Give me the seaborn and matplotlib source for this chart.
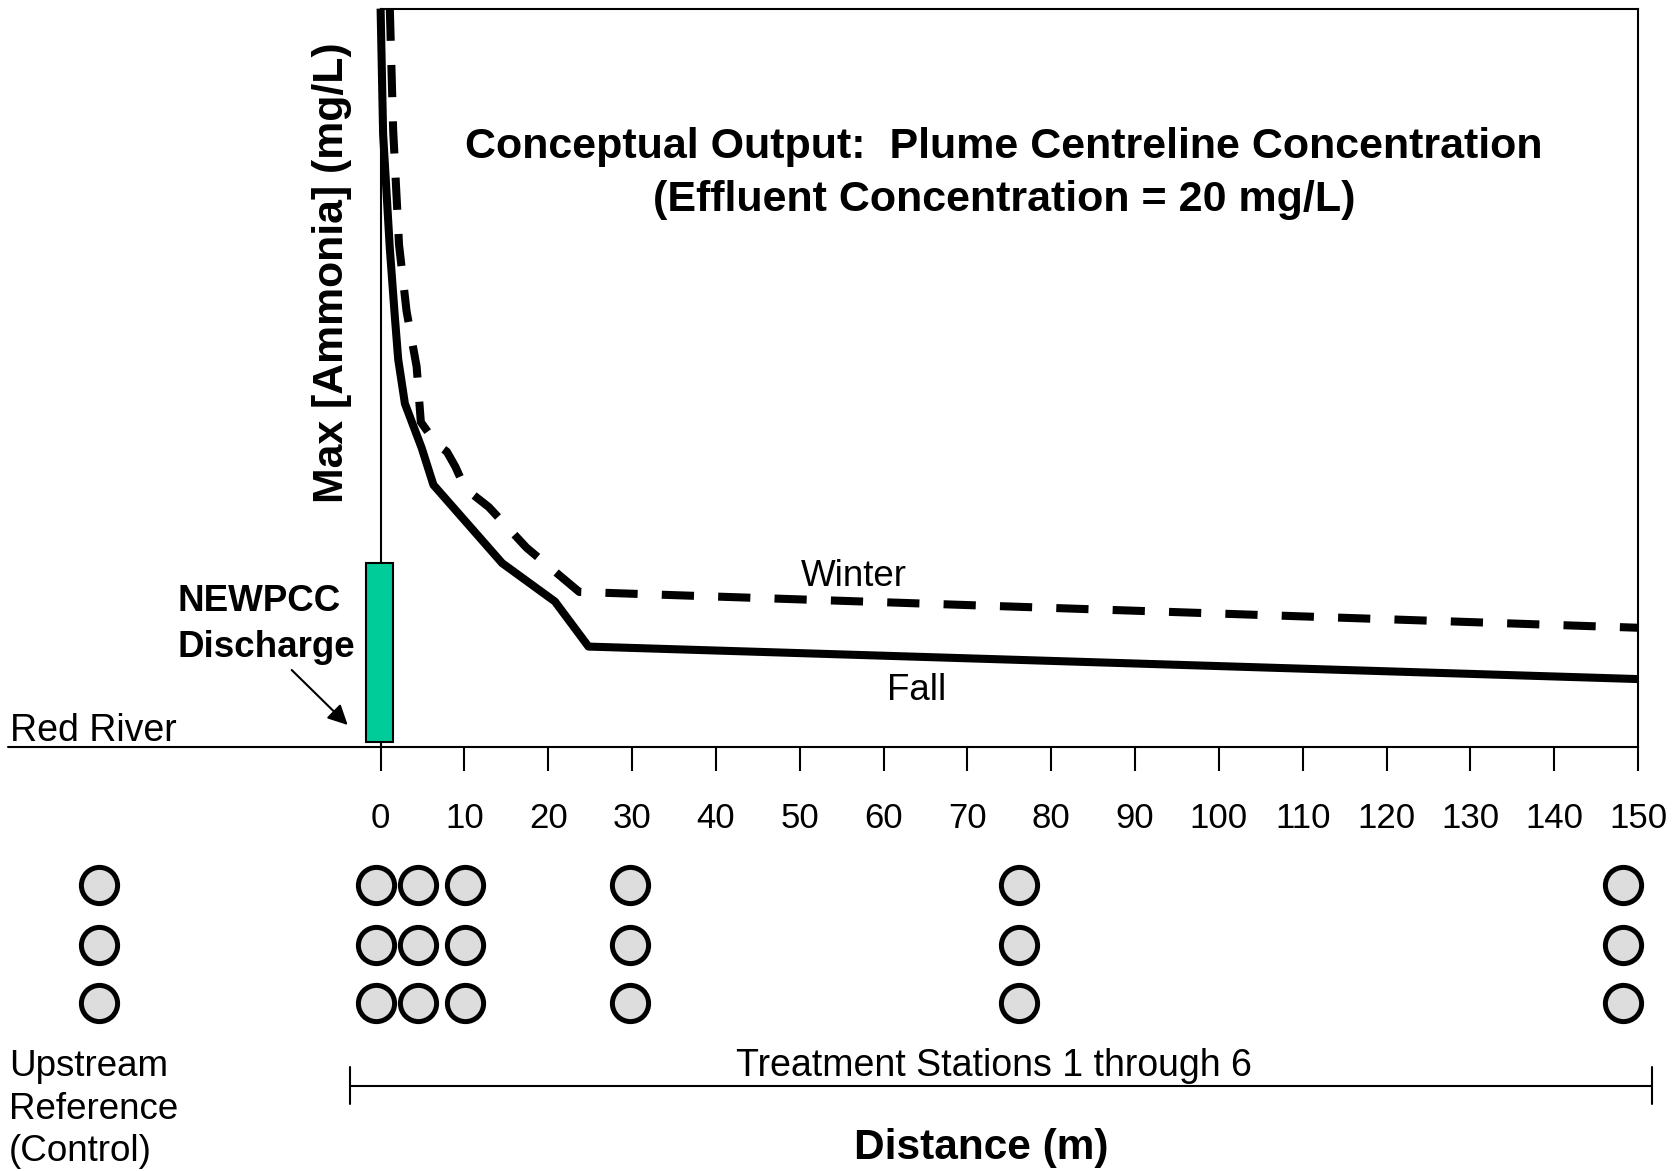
import matplotlib
matplotlib.use("Agg")
import matplotlib.pyplot as plt
import seaborn as sns
import pandas as pd

# -------------------------------
# DATA
# -------------------------------

fall_distance = [0, 0.3, 1.1, 1.7, 2.1, 2.9, 4.9, 6.3, 14.5, 20.8, 24.8, 150]
fall_conc = [20, 16.6, 13.5, 11.65, 10.5, 9.3, 8.1, 7.1, 4.98, 3.94, 2.72, 1.84]

winter_distance = [1.1, 1.5, 2.2, 3.1, 4.3, 4.8, 6.7, 7.9, 8.9, 10.1, 12.9, 17.4, 23.7, 150]
winter_conc = [20, 16.7, 13.6, 11.8, 10.3, 8.8, 8.2, 8.0, 7.6, 7.0, 6.5, 5.4, 4.2, 3.23]

# sampling stations (upstream reference + 6 treatment stations), 3 replicates each
station_distance = [-33.6, -0.5, 4.5, 10.1, 29.8, 76.2, 148.2]
replicate_rows = [-3.75, -5.35, -6.94]

tick_values = list(range(0, 151, 10))

# NEWPCC discharge outfall
discharge_center = -0.1
discharge_width = 3.25
discharge_bottom = 0.14
discharge_top = 4.99


# -------------------------------
# FIGURE
# -------------------------------

sns.set_style("white")
plt.rcParams['font.family'] = ['Liberation Sans', 'DejaVu Sans']
plt.rcParams['text.color'] = 'black'
plt.rcParams['xtick.color'] = 'black'

W, H = 1681, 1171


def fig_px(x, y):
    # pixel position (from top-left) -> figure fraction
    return x / W, 1 - y / H


fig = plt.figure(figsize=(W / 100, H / 100), dpi=100)
ax = fig.add_axes([380.6 / W, 1 - 747 / H, (1638 - 380.6) / W, (747 - 8.6) / H])
ax.set_xlim(0, 150)
ax.set_ylim(0, 20)

sns.lineplot(x=fall_distance, y=fall_conc, color='black', linewidth=5.8,
             estimator=None, sort=False, ax=ax, clip_on=False,
             solid_capstyle='butt')
sns.lineplot(x=winter_distance, y=winter_conc, color='black', linewidth=5.8,
             estimator=None, sort=False, ax=ax, clip_on=False,
             linestyle=(0, (4.0, 3.0)))

stations = pd.DataFrame(
    [(d, r) for d in station_distance for r in replicate_rows],
    columns=['distance', 'row'])
sns.scatterplot(data=stations, x='distance', y='row', s=680, color='#DDDDDD',
                edgecolor='black', linewidth=3.6, clip_on=False, legend=False,
                ax=ax, zorder=4)

ax.bar(discharge_center, discharge_top - discharge_bottom, bottom=discharge_bottom,
       width=discharge_width, color='#00CC99', edgecolor='black', linewidth=1.5,
       clip_on=False, zorder=3)

# axes styling
for side in ['left', 'right', 'top', 'bottom']:
    ax.spines[side].set_visible(True)
    ax.spines[side].set_linewidth(1.5)
    ax.spines[side].set_color('black')
ax.set_xticks(tick_values)
ax.set_yticks([])
ax.tick_params(axis='x', direction='out', length=17, width=1.5, pad=22.6,
               labelsize=25, colors='black', bottom=True)
ax.set_xlabel('')
ax.set_ylabel('')

# river line extends upstream of the axis
ax.plot([-44.4, 0], [0, 0], color='black', lw=1.5, clip_on=False)

# treatment stations bracket
ax.plot([-3.7, 151.7], [-9.18, -9.18], color='black', lw=1.5, clip_on=False)
ax.plot([-3.7, -3.7], [-8.67, -9.67], color='black', lw=1.5, clip_on=False)
ax.plot([151.7, 151.7], [-8.67, -9.67], color='black', lw=1.5, clip_on=False)

# curve labels
ax.text(56.5, 4.37, 'Winter', ha='center', va='baseline', fontsize=26.5)
ax.text(63.9, 1.27, 'Fall', ha='center', va='baseline', fontsize=26.5)

# titles and labels
fig.text(*fig_px(1004, 158), 'Conceptual Output:  Plume Centreline Concentration',
         ha='center', va='baseline', fontsize=31, fontweight='bold')
fig.text(*fig_px(1004, 211), '(Effluent Concentration = 20 mg/L)',
         ha='center', va='baseline', fontsize=31, fontweight='bold')
fig.text(*fig_px(343, 273), 'Max [Ammonia] (mg/L)', rotation=90,
         rotation_mode='anchor', ha='center', va='baseline', fontsize=30.8,
         fontweight='bold')
fig.text(*fig_px(981, 1159), 'Distance (m)', ha='center', va='baseline',
         fontsize=30.5, fontweight='bold')

fig.text(*fig_px(10, 741), 'Red River', ha='left', va='baseline', fontsize=27)
fig.text(*fig_px(178, 611), 'NEWPCC', ha='left', va='baseline', fontsize=26.5,
         fontweight='bold')
fig.text(*fig_px(178, 657), 'Discharge', ha='left', va='baseline', fontsize=26.5,
         fontweight='bold')
ax.annotate('', xy=(347.7, H - 725), xycoords='figure pixels',
            xytext=(291.7, H - 670), textcoords='figure pixels',
            arrowprops=dict(arrowstyle='-|>', color='black', lw=1.5,
                            mutation_scale=30, shrinkA=0, shrinkB=0))

for label, y in zip(['Upstream', 'Reference', '(Control)'], [1076, 1119, 1161]):
    fig.text(*fig_px(9, y), label, ha='left', va='baseline', fontsize=26.5)
fig.text(*fig_px(994, 1076), 'Treatment Stations 1 through 6', ha='center',
         va='baseline', fontsize=27)

fig.savefig('out.png', dpi=100)
plt.close()
